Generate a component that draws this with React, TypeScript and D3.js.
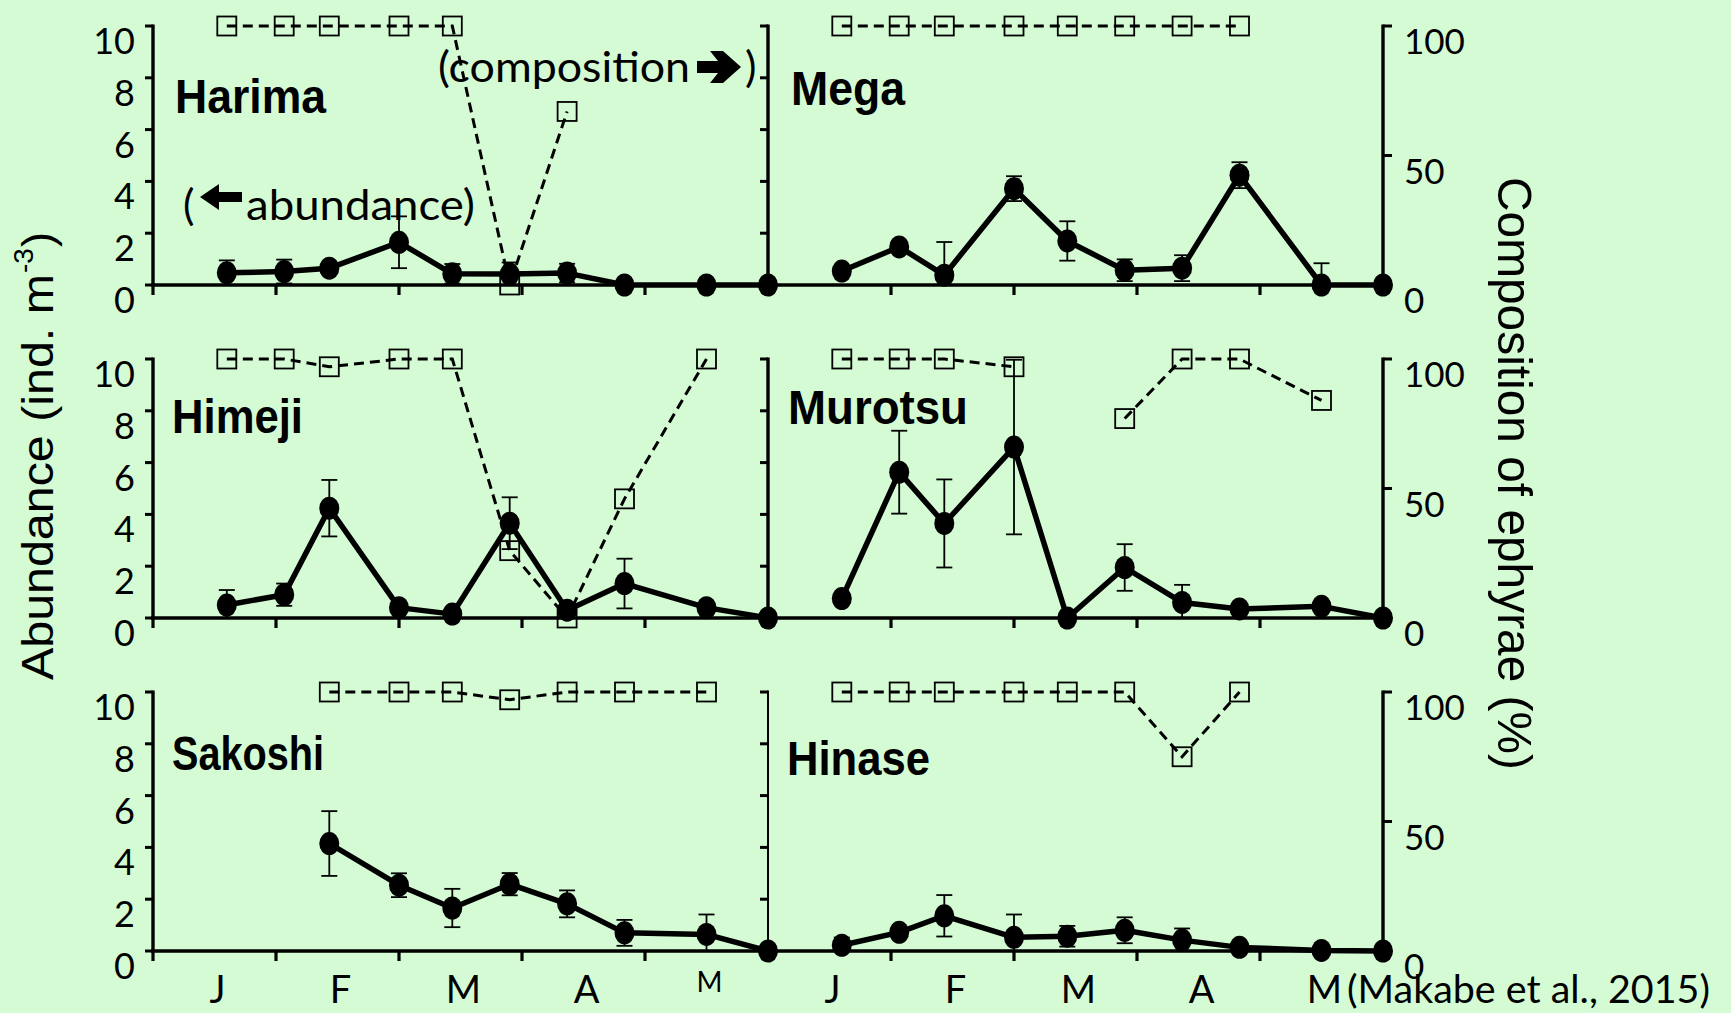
import React from "react";
import * as d3 from "d3";

// sampling dates (days from 1 Jan), shared by all stations
const sampleDays = [18, 32, 43, 60, 73, 87, 101, 115, 135, 150];
const monthNames = ["J", "F", "M", "A", "M"];
const monthStarts = [0, 30, 60, 90, 120, 150];
const abundanceTicks = [0, 2, 4, 6, 8, 10];
const compositionTicks = [0, 50, 100];

// abundance (ind. m-3), sd, composition of ephyrae (%); null = no value
const harimaMean = [0.47, 0.52, 0.65, 1.65, 0.43, 0.42, 0.46, 0, 0, 0];
const harimaSd = [0.48, 0.46, 0.2, 1.0, 0.38, 0.45, 0.36, 0, 0, 0];
const harimaComp = [100, 100, 100, 100, 100, 0, 67, null, null, null];

const megaMean = [0.54, 1.47, 0.38, 3.72, 1.7, 0.57, 0.65, 4.24, 0, 0];
const megaSd = [0, 0, 1.28, 0.48, 0.76, 0.42, 0.5, 0.5, 0.84, 0];
const megaComp = [100, 100, 100, 100, 100, 100, 100, 100, null, null];

const himejiMean = [0.5, 0.9, 4.24, 0.4, 0.15, 3.66, 0.3, 1.33, 0.4, 0];
const himejiSd = [0.58, 0.43, 1.09, 0, 0, 1.0, 0, 0.96, 0, 0];
const himejiComp = [100, 100, 97, 100, 100, 26, 0, 46, 100, null];

const murotsuMean = [0.75, 5.63, 3.65, 6.6, 0, 1.95, 0.6, 0.35, 0.45, 0];
const murotsuSd = [0, 1.6, 1.7, 3.37, 0, 0.9, 0.68, 0, 0, 0];
const murotsuComp = [100, 100, 100, 97, null, 77, 100, 100, 84, null];

const sakoshiMean = [null, null, 4.15, 2.54, 1.66, 2.58, 1.82, 0.7, 0.64, 0];
const sakoshiSd = [0, 0, 1.25, 0.46, 0.74, 0.43, 0.52, 0.5, 0.77, 0];
const sakoshiComp = [null, null, 100, 100, 100, 97, 100, 100, 100, null];

const hinaseMean = [0.22, 0.72, 1.36, 0.53, 0.57, 0.8, 0.42, 0.14, 0.02, 0];
const hinaseSd = [0.3, 0, 0.8, 0.88, 0.4, 0.5, 0.45, 0, 0, 0];
const hinaseComp = [100, 100, 100, 100, 100, 100, 75, 100, null, null];

const stations = [
  { name: "Harima", mean: harimaMean, sd: harimaSd, comp: harimaComp },
  { name: "Mega", mean: megaMean, sd: megaSd, comp: megaComp },
  { name: "Himeji", mean: himejiMean, sd: himejiSd, comp: himejiComp },
  { name: "Murotsu", mean: murotsuMean, sd: murotsuSd, comp: murotsuComp },
  { name: "Sakoshi", mean: sakoshiMean, sd: sakoshiSd, comp: sakoshiComp },
  { name: "Hinase", mean: hinaseMean, sd: hinaseSd, comp: hinaseComp },
];

// layout
const W = 1731;
const H = 1013;
const colX = [153, 768];
const panelW = 615;
const rowY = [26, 359, 692];
const panelH = 259;
const nameBoxes = [
  { x: 175, y: 113, w: 151 },
  { x: 791, y: 105, w: 114 },
  { x: 172, y: 433, w: 131 },
  { x: 788, y: 424, w: 180 },
  { x: 172, y: 770, w: 152 },
  { x: 787, y: 775, w: 143 },
];

const FONT = "Lato, 'Open Sans', sans-serif";
const BOLD = "'Liberation Sans', Arial, sans-serif";
const BG = "#d4fbd4";

type Pt = [number, number | null];

const Panel: React.FC<{ idx: number }> = ({ idx }) => {
  const st = stations[idx];
  const col = idx % 2;
  const row = Math.floor(idx / 2);
  const x = d3.scaleLinear().domain([0, 150]).range([colX[col], colX[col] + panelW]);
  const y = d3.scaleLinear().domain([0, 10]).range([rowY[row] + panelH, rowY[row]]);
  const yc = d3.scaleLinear().domain([0, 100]).range([rowY[row] + panelH, rowY[row]]);

  const meanPts: Pt[] = sampleDays.map((d, i) => [d, st.mean[i]]);
  const compPts: Pt[] = sampleDays.map((d, i) => [d, st.comp[i]]);

  const lineA = d3
    .line<Pt>()
    .defined(d => d[1] !== null)
    .x(d => x(d[0]))
    .y(d => y(d[1] as number));
  const lineC = d3
    .line<Pt>()
    .defined(d => d[1] !== null)
    .x(d => x(d[0]))
    .y(d => yc(d[1] as number));

  const y0 = y(0);
  const nb = nameBoxes[idx];
  // the shared middle axis of the last row is drawn thinner in the original
  const axisW = col === 1 && row === 2 ? 2 : 3.4;

  return (
    <g>
      {/* x axis */}
      <line x1={x(0) - 2} x2={x(150) + 2} y1={y0} y2={y0} stroke="#000" strokeWidth={3.6} />
      {monthStarts.map(m => (
        <line key={m} x1={x(m)} x2={x(m)} y1={y0} y2={y0 + 10} stroke="#000" strokeWidth={3.2} />
      ))}
      {/* abundance axis */}
      <line x1={x(0)} x2={x(0)} y1={y(10) - 1.5} y2={y0} stroke="#000" strokeWidth={axisW} />
      {abundanceTicks.map(t => (
        <line key={t} x1={x(0) - 8} x2={x(0)} y1={y(t)} y2={y(t)} stroke="#000" strokeWidth={3} />
      ))}
      {col === 0 &&
        abundanceTicks.map(t => (
          <text key={t} x={135} y={y(t) + 28} fontSize={36} fontFamily={FONT} textAnchor="end">
            {t}
          </text>
        ))}
      {/* composition axis on the right */}
      {col === 1 && (
        <g>
          <line x1={x(150)} x2={x(150)} y1={yc(100) - 1.5} y2={y0} stroke="#000" strokeWidth={3.4} />
          {compositionTicks.map(t => (
            <g key={t}>
              <line x1={x(150)} x2={x(150) + 9} y1={yc(t)} y2={yc(t)} stroke="#000" strokeWidth={3} />
              <text x={1404} y={yc(t) + 28} fontSize={35} fontFamily={FONT}>
                {t}
              </text>
            </g>
          ))}
        </g>
      )}
      {/* month labels on the bottom row */}
      {row === 2 &&
        monthNames.map((m, i) => {
          const small = col === 0 && i === 4;
          return (
            <text
              key={i}
              x={x((monthStarts[i] + monthStarts[i + 1]) / 2) + 3}
              y={small ? 992 : 1003}
              fontSize={small ? 28 : 38}
              fontFamily={FONT}
              textAnchor="middle"
            >
              {m}
            </text>
          );
        })}

      {/* composition (dashed, open squares) */}
      <path d={lineC(compPts) || ""} fill="none" stroke="#000" strokeWidth={3} strokeDasharray="10 6" />
      {compPts
        .filter(d => d[1] !== null)
        .map((d, i) => (
          <rect
            key={i}
            x={x(d[0]) - 9.5}
            y={yc(d[1] as number) - 9.5}
            width={19}
            height={19}
            fill="none"
            stroke="#000"
            strokeWidth={1.8}
          />
        ))}

      {/* error bars */}
      {meanPts.map((d, i) => {
        if (d[1] === null || !st.sd[i]) return null;
        const m = d[1] as number;
        const s = st.sd[i];
        const cx = x(d[0]);
        const top = y(m + s);
        const lo = Math.max(0, m - s);
        const bot = y(lo);
        return (
          <g key={i} stroke="#000" strokeWidth={1.8}>
            <line x1={cx} x2={cx} y1={top} y2={bot} />
            <line x1={cx - 8} x2={cx + 8} y1={top} y2={top} />
            {m - s > 0 && <line x1={cx - 8} x2={cx + 8} y1={bot} y2={bot} />}
          </g>
        );
      })}

      {/* abundance */}
      <path d={lineA(meanPts) || ""} fill="none" stroke="#000" strokeWidth={5.5} strokeLinejoin="round" />
      {meanPts
        .filter(d => d[1] !== null)
        .map((d, i) => (
          <ellipse key={i} cx={x(d[0])} cy={y(d[1] as number)} rx={10} ry={11.5} fill="#000" />
        ))}

      <text
        x={nb.x}
        y={nb.y}
        fontSize={48}
        fontWeight="bold"
        fontFamily={BOLD}
        textLength={nb.w}
        lengthAdjust="spacingAndGlyphs"
      >
        {st.name}
      </text>
    </g>
  );
};

const App: React.FC = () => {
  const rightArrow = (x0: number, cy: number) =>
    `M${x0},${cy - 6} H${x0 + 21} L${x0 + 13},${cy - 16} H${x0 + 26} L${x0 + 44},${cy} L${x0 + 26},${cy + 16} H${x0 + 13} L${x0 + 21},${cy + 6} H${x0} Z`;
  const leftArrow = (x0: number, cy: number) =>
    `M${x0},${cy} L${x0 + 19},${cy - 13} V${cy - 5} H${x0 + 42} V${cy + 5} H${x0 + 19} V${cy + 13} Z`;

  return (
    <div style={{ position: "absolute", left: 0, top: 0 }}>
      <svg width={W} height={H} style={{ display: "block" }}>
        <rect width={W} height={H} fill={BG} />
        {stations.map((s, i) => (
          <Panel key={s.name} idx={i} />
        ))}

        {/* annotations */}
        <text x={438} y={82} fontSize={43} fontFamily={FONT} textLength={252} lengthAdjust="spacingAndGlyphs">
          (composition
        </text>
        <path d={rightArrow(697, 67)} fill="#000" />
        <text x={745} y={82} fontSize={43} fontFamily={FONT}>
          )
        </text>
        <text x={183} y={220} fontSize={43} fontFamily={FONT}>
          (
        </text>
        <path d={leftArrow(200, 197)} fill="#000" />
        <text x={246} y={220} fontSize={43} fontFamily={FONT} textLength={229} lengthAdjust="spacingAndGlyphs">
          abundance)
        </text>

        {/* axis titles */}
        <g transform="translate(53,680) rotate(-90)">
          <text x={0} y={0} fontSize={45} fontFamily={BOLD} textLength={406} lengthAdjust="spacingAndGlyphs">
            Abundance (ind. m
          </text>
          <text x={407} y={-20} fontSize={28} fontFamily={BOLD}>
            -3
          </text>
          <text x={433} y={0} fontSize={45} fontFamily={BOLD}>
            )
          </text>
        </g>
        <g transform="translate(1498,177) rotate(90)">
          <text x={0} y={0} fontSize={49} fontFamily={BOLD} textLength={593} lengthAdjust="spacingAndGlyphs">
            Composition of ephyrae (%)
          </text>
        </g>

        <text x={1347} y={1003} fontSize={39} fontFamily={FONT} textLength={363} lengthAdjust="spacingAndGlyphs">
          (Makabe et al., 2015)
        </text>
      </svg>
    </div>
  );
};

export default App;
